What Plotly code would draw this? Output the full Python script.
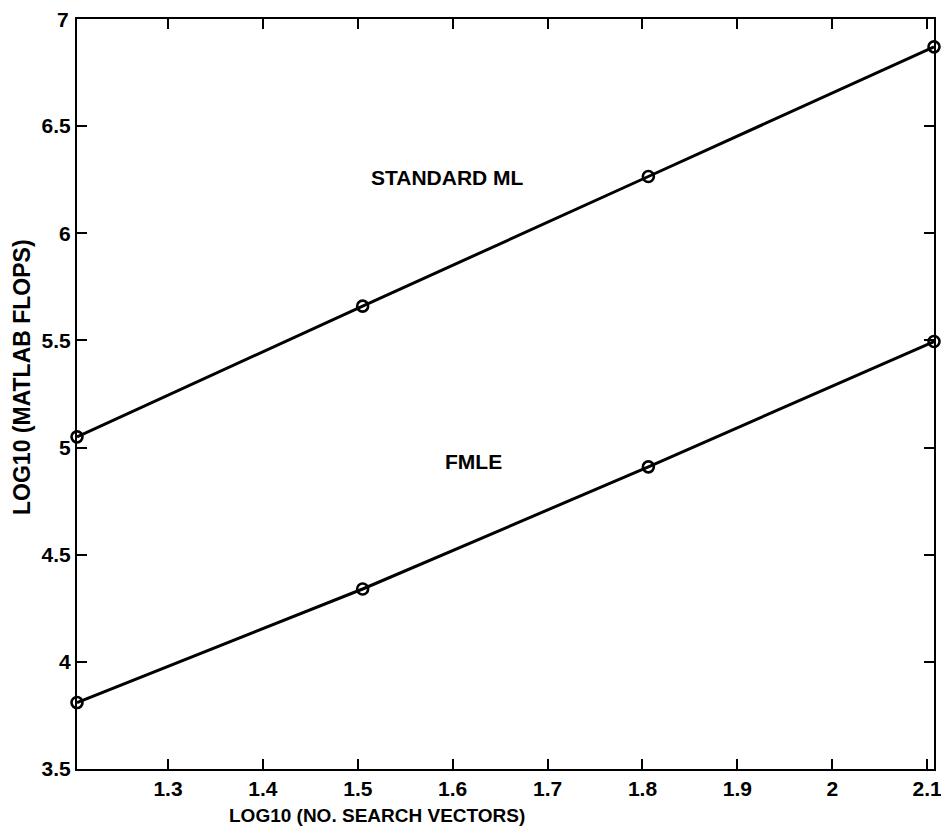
import plotly.graph_objects as go

x_vals = [1.2041, 1.5051, 1.8062, 2.1072]
standard_ml = [5.05, 5.66, 6.265, 6.87]
fmle = [3.81, 4.34, 4.91, 5.495]
x_ticks = [1.3, 1.4, 1.5, 1.6, 1.7, 1.8, 1.9, 2.0, 2.1]
x_tick_text = ["1.3", "1.4", "1.5", "1.6", "1.7", "1.8", "1.9", "2", "2.1"]
y_ticks = [3.5, 4, 4.5, 5, 5.5, 6, 6.5, 7]
y_tick_text = ["3.5", "4", "4.5", "5", "5.5", "6", "6.5", "7"]

FAM = "Liberation Sans, Arial, Helvetica, sans-serif"
tick_font = dict(family=FAM, size=21, color="black", weight="bold")
label_font = dict(family=FAM, size=21, color="black", weight="bold")
xtitle_font = dict(family=FAM, size=19, color="black", weight="bold")
ytitle_font = dict(family=FAM, size=23, color="black", weight="bold")

fig = go.Figure()
for ys in (standard_ml, fmle):
    fig.add_trace(go.Scatter(
        x=x_vals, y=ys, mode="lines+markers",
        line=dict(color="black", width=3),
        marker=dict(symbol="circle-open", size=11, color="black", line=dict(width=2.6)),
        showlegend=False, cliponaxis=False))

fig.add_annotation(x=1.595, y=6.26, text="STANDARD ML", showarrow=False, font=label_font)
fig.add_annotation(x=1.6215, y=4.935, text="FMLE", showarrow=False, font=label_font)

# top y tick label drawn as annotation so it is not hidden at the paper edge
top_label = y_tick_text[-1]
fig.add_annotation(x=0, xref="paper", xanchor="right", xshift=-6, y=y_ticks[-1], yref="y",
                   yanchor="middle", text=top_label, showarrow=False, font=tick_font)

# axis titles
fig.add_annotation(x=1.52, xref="x", y=0, yref="paper", yanchor="middle", yshift=-46,
                   text="LOG10 (NO. SEARCH VECTORS)", showarrow=False, font=xtitle_font)
fig.add_annotation(x=0, xref="paper", xanchor="center", xshift=-55, y=0.5227, yref="paper",
                   yanchor="middle", textangle=-90,
                   text="LOG10 (MATLAB FLOPS)", showarrow=False, font=ytitle_font)

axis_common = dict(showline=True, linecolor="black", linewidth=2, mirror="ticks",
                   ticks="inside", ticklen=10, tickwidth=2, tickcolor="black",
                   showgrid=False, zeroline=False, tickfont=tick_font)

fig.update_xaxes(range=[1.2041, 2.1072], tickvals=x_ticks, ticktext=x_tick_text, **axis_common)
fig.update_yaxes(range=[3.5, 7], tickvals=y_ticks,
                 ticktext=y_tick_text[:-1] + [""], **axis_common)

fig.update_layout(width=941, height=822, plot_bgcolor="white", paper_bgcolor="white",
                  margin=dict(l=69, r=7, t=11, b=61), font=tick_font)

fig.write_html("out.html")
